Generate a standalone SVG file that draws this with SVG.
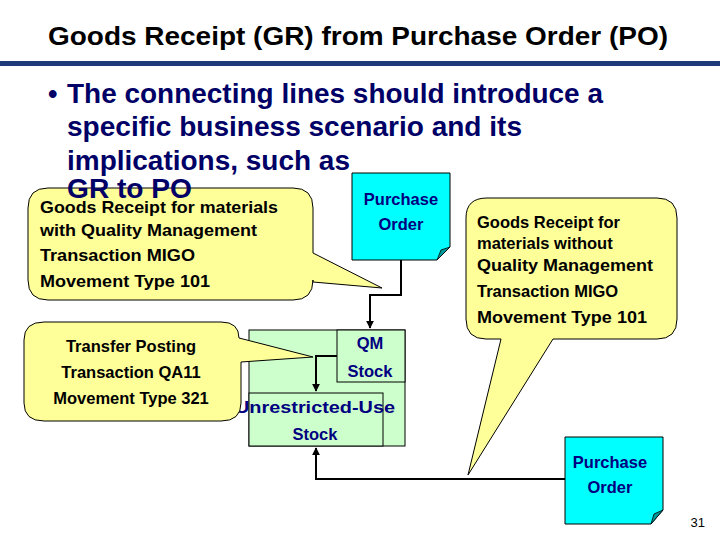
<svg xmlns="http://www.w3.org/2000/svg" width="720" height="540" viewBox="0 0 720 540">
<defs>
<style>
text{font-family:"Liberation Sans",Arial,sans-serif;font-weight:bold}
.t{font-size:25px;fill:#000;font-weight:normal}
.b{font-size:27px;fill:#000066}
.c{font-size:16.5px;fill:#000}
.d{font-size:16.5px;fill:#000080;text-anchor:middle}
.call{fill:#FFFF99;stroke:#000;stroke-width:1}
.doc{fill:#00FFFF;stroke:#000;stroke-width:1}
.stk{fill:#CCFFCC;stroke:#000;stroke-width:1}
.ln{fill:none;stroke:#000;stroke-width:2}
</style>
<marker id="ar" viewBox="0 0 10 10" refX="9" refY="5" markerWidth="4" markerHeight="4" orient="auto"><path d="M0,0L10,5L0,10z" fill="#000"/></marker>
</defs>
<rect width="720" height="540" fill="#fff"/>
<text class="t" x="48" y="45" textLength="620" lengthAdjust="spacingAndGlyphs" style="font-weight:bold">Goods Receipt (GR) from Purchase Order (PO)</text>
<rect x="0" y="61" width="720" height="5" fill="#1F3A7A"/>
<g id="callout1">
<path class="call" d="M48,188H293Q313,188 313,208V253L382,288L313,282V280Q313,300 293,300H48Q28,300 28,280V208Q28,188 48,188Z"/>
<text class="c" x="40" y="213" textLength="238" lengthAdjust="spacingAndGlyphs">Goods Receipt for materials</text>
<text class="c" x="40" y="236" textLength="217" lengthAdjust="spacingAndGlyphs">with Quality Management</text>
<text class="c" x="40" y="261" textLength="155" lengthAdjust="spacingAndGlyphs">Transaction MIGO</text>
<text class="c" x="40" y="287" textLength="170" lengthAdjust="spacingAndGlyphs">Movement Type 101</text>
</g>
<g id="bullet">
<text class="b" x="48" y="103">•</text>
<text class="b" x="67" y="103" textLength="536" lengthAdjust="spacingAndGlyphs">The connecting lines should introduce a</text>
<text class="b" x="67" y="136" textLength="455" lengthAdjust="spacingAndGlyphs">specific business scenario and its</text>
<text class="b" x="67" y="170" textLength="283" lengthAdjust="spacingAndGlyphs">implications, such as</text>
<text class="b" x="67" y="198" textLength="125" lengthAdjust="spacingAndGlyphs">GR to PO</text>
</g>
<g id="po1">
<path class="doc" d="M352,173H450V247L437,260H352Z"/>
<path d="M437,260L441,250L450,247Z" fill="#009999" stroke="#000" stroke-width="0.8"/>
<text class="d" x="401" y="205">Purchase</text>
<text class="d" x="401" y="230">Order</text>
</g>
<g id="stock">
<rect class="stk" x="249" y="330" width="156" height="116"/>
<rect class="stk" x="337" y="330" width="68" height="52"/>
<rect class="stk" x="249" y="393" width="134" height="53"/>
<text class="d" x="370" y="349" font-size="17">QM</text>
<text class="d" x="370" y="377" font-size="17">Stock</text>
<text class="d" x="315" y="413" font-size="17" textLength="160" lengthAdjust="spacingAndGlyphs">Unrestricted-Use</text>
<text class="d" x="315" y="440" font-size="17">Stock</text>
</g>
<g id="callout2">
<path class="call" d="M44,322H221Q239,322 239,338L313,357L241,362V403Q241,421 221,421H44Q24,421 24,403V340Q24,322 44,322Z"/>
<text class="c" x="131" y="352" text-anchor="middle">Transfer Posting</text>
<text class="c" x="131" y="378" text-anchor="middle">Transaction QA11</text>
<text class="c" x="131" y="404" text-anchor="middle">Movement Type 321</text>
</g>
<g id="callout3">
<path class="call" d="M487,198H657Q677,198 677,218V319Q677,339 657,339H553L468,475L501,339H486Q466,339 466,319V218Q466,198 487,198Z"/>
<text class="c" x="477" y="228">Goods Receipt for</text>
<text class="c" x="477" y="249">materials without</text>
<text class="c" x="477" y="271" textLength="176" lengthAdjust="spacingAndGlyphs">Quality Management</text>
<text class="c" x="477" y="297">Transaction MIGO</text>
<text class="c" x="477" y="323" textLength="170" lengthAdjust="spacingAndGlyphs">Movement Type 101</text>
</g>
<g id="po2">
<path class="doc" d="M565,437H663V510L651,524H565Z"/>
<path d="M651,524L654,514L663,510Z" fill="#009999" stroke="#000" stroke-width="0.8"/>
<text class="d" x="610" y="468">Purchase</text>
<text class="d" x="610" y="493">Order</text>
</g>
<g id="connectors">
<path class="ln" d="M401,260V295H370V328" marker-end="url(#ar)"/>
<path class="ln" d="M337,356H316V391" marker-end="url(#ar)"/>
<path class="ln" d="M565,479H316V448" marker-end="url(#ar)"/>
</g>
<text x="705" y="527" font-size="13" text-anchor="end" style="font-weight:normal">31</text>
</svg>
